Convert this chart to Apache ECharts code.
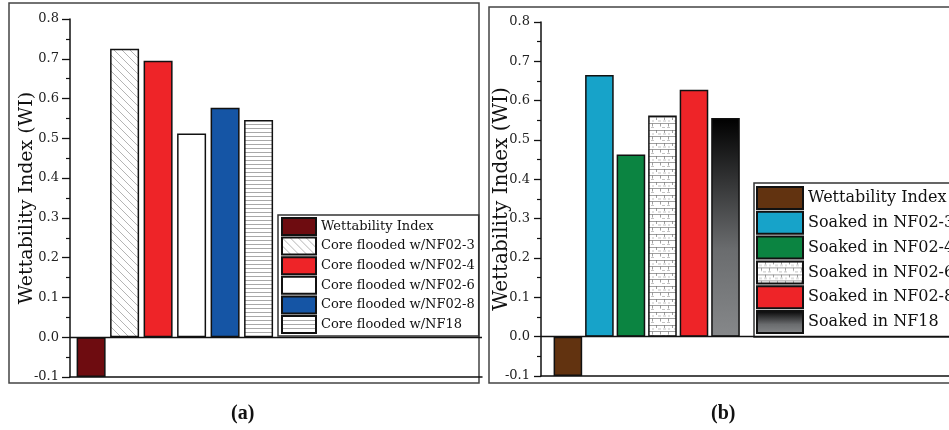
<!DOCTYPE html>
<html>
<head>
<meta charset="utf-8">
<script src="https://cdn.jsdelivr.net/npm/echarts@6/dist/echarts.min.js"></script>
<style>
html,body{margin:0;padding:0;background:#fff;}
#chart{width:949px;height:430px;}
</style>
</head>
<body>
<div id="chart"></div>
<script>
// ---- data ----
var namesA = ['Wettability Index','Core flooded w/NF02-3','Core flooded w/NF02-4','Core flooded w/NF02-6','Core flooded w/NF02-8','Core flooded w/NF18'];
var valuesA = [-0.1, 0.725, 0.695, 0.512, 0.577, 0.546];
var namesB = ['Wettability Index','Soaked in NF02-3','Soaked in NF02-4','Soaked in NF02-6','Soaked in NF02-8','Soaked in NF18'];
var valuesB = [-0.1, 0.665, 0.463, 0.562, 0.628, 0.556];
var positions = [1, 2, 3, 4, 5, 6];
var yTicks = {min: -0.1, max: 0.8, interval: 0.1};
var axisTitle = 'Wettability Index (WI)';
var captions = ['(a)', '(b)'];

// ---- patterns ----
function makeCanvas(w, h, draw) {
  var c = document.createElement('canvas');
  c.width = w; c.height = h;
  var ctx = c.getContext('2d');
  ctx.fillStyle = '#fff'; ctx.fillRect(0, 0, w, h);
  draw(ctx, w, h);
  return c;
}
var diagPat = makeCanvas(8, 8, function (ctx, w, h) {
  ctx.strokeStyle = '#b4b4b4'; ctx.lineWidth = 1;
  ctx.beginPath();
  ctx.moveTo(-1, -1); ctx.lineTo(w + 1, h + 1);
  ctx.moveTo(-1 - w, -1); ctx.lineTo(1, h + 1);
  ctx.moveTo(w - 1, -1); ctx.lineTo(2 * w + 1, h + 1);
  ctx.stroke();
});
var hLinePat = makeCanvas(8, 4, function (ctx, w, h) {
  ctx.strokeStyle = '#a8a8a8'; ctx.lineWidth = 1;
  ctx.beginPath(); ctx.moveTo(0, 0.5); ctx.lineTo(w, 0.5); ctx.stroke();
});
var brickPat = makeCanvas(16, 13, function (ctx, w, h) {
  ctx.strokeStyle = '#777'; ctx.lineWidth = 0.7;
  ctx.beginPath();
  ctx.moveTo(0, 0.5); ctx.lineTo(w, 0.5);
  ctx.moveTo(0, 6.5); ctx.lineTo(w, 6.5);
  ctx.moveTo(0.5, 0); ctx.lineTo(0.5, 3);
  ctx.moveTo(8.5, 0); ctx.lineTo(8.5, 3);
  ctx.moveTo(4.5, 6.5); ctx.lineTo(4.5, 9.5);
  ctx.moveTo(12.5, 6.5); ctx.lineTo(12.5, 9.5);
  ctx.stroke();
  ctx.strokeStyle = '#aaa'; ctx.lineWidth = 0.7;
  ctx.setLineDash([3, 2]);
  ctx.beginPath();
  ctx.moveTo(2, 4); ctx.lineTo(14, 4);
  ctx.moveTo(6, 10.5); ctx.lineTo(16, 10.5);
  ctx.stroke();
});

var colorsA = ['#6e0c10', {image: diagPat, repeat: 'repeat'}, '#ee2428', '#ffffff', '#1555a5', {image: hLinePat, repeat: 'repeat'}];
var gradB = new echarts.graphic.LinearGradient(0, 0, 0, 1, [
  {offset: 0, color: '#000000'}, {offset: 0.6, color: '#6a6c6e'}, {offset: 1, color: '#86888a'}
]);
var colorsB = ['#623310', '#17a3c9', '#0b8441', {image: brickPat, repeat: 'repeat'}, '#ee2428', gradB];

var FONT = 'DejaVu Serif';

function yAxisCfg(gridIndex, nameGap, tickLen, nameSize) {
  return {
    type: 'value', gridIndex: gridIndex,
    min: yTicks.min, max: yTicks.max, interval: yTicks.interval,
    name: axisTitle, nameLocation: 'middle', nameRotate: 90, nameGap: nameGap,
    nameMoveOverlap: false,
    nameTextStyle: {fontFamily: FONT, fontSize: nameSize, color: '#111'},
    axisLine: {show: true, onZero: false, lineStyle: {color: '#111', width: 1.5}},
    axisTick: {show: true, inside: false, length: tickLen, lineStyle: {color: '#111', width: 1.3}},
    minorTick: {show: true, splitNumber: 2, length: 4, lineStyle: {color: '#111', width: 1.2}},
    splitLine: {show: false},
    axisLabel: {
      fontFamily: FONT, fontSize: 13, color: '#222', margin: 11,
      formatter: function (v) { return Math.abs(v) < 1e-9 ? '0.0' : v.toFixed(1); }
    }
  };
}
function xAxisCfg(gridIndex, min, max) {
  return {
    type: 'value', gridIndex: gridIndex, min: min, max: max,
    axisLine: {show: true, onZero: false, lineStyle: {color: '#111', width: 1.5}},
    axisTick: {show: false}, axisLabel: {show: false}, splitLine: {show: false}
  };
}

function buildSeries(names, values, colors, idx, suffix) {
  return names.map(function (n, i) {
    var s = {
      type: 'bar', name: n + (i === 0 ? suffix : ''),
      xAxisIndex: idx, yAxisIndex: idx,
      barWidth: idx === 0 ? 29 : 28.6, barGap: '-100%',
      itemStyle: {color: colors[i], borderColor: '#111', borderWidth: 1.5},
      emphasis: {disabled: true},
      data: [[positions[i], values[i]]]
    };
    if (i === 0) {
      s.markLine = {
        silent: true, symbol: 'none', label: {show: false}, animation: false,
        lineStyle: {color: '#111', type: 'solid', width: 1.3},
        data: [{yAxis: 0}]
      };
    }
    return s;
  });
}

var chart = echarts.init(document.getElementById('chart'), null, {renderer: 'canvas'});
var option = {
  animation: false,
  backgroundColor: '#fff',
  grid: [
    {left: 70, top: 19, width: 412, height: 358},
    {left: 541, top: 22, width: 420, height: 354}
  ],
  xAxis: [xAxisCfg(0, 0.37, 12.67), xAxisCfg(1, 0.147, 13.09)],
  yAxis: [yAxisCfg(0, 33, 8, 19), yAxisCfg(1, 29, 7, 20)],
  legend: [
    {
      data: namesA, orient: 'vertical', left: 278, top: 215,
      icon: 'rect',
      itemWidth: 34, itemHeight: 17, itemGap: 0.6,
      padding: [2, 4, 2, 3],
      backgroundColor: '#fff', borderColor: '#333', borderWidth: 1.5,
      textStyle: {fontFamily: FONT, fontSize: 13, color: '#111'},
      selectedMode: false
    },
    {
      data: namesB.map(function (n, i) { return i === 0 ? n + ' (b)' : n; }),
      orient: 'vertical', left: 754, top: 183,
      icon: 'rect',
      itemWidth: 46, itemHeight: 22, itemGap: 0.8,
      padding: [3, 20, 3, 2],
      backgroundColor: '#fff', borderColor: '#333', borderWidth: 1.5,
      textStyle: {fontFamily: FONT, fontSize: 16, color: '#111'},
      formatter: function (n) { return n.replace(' (b)', ''); },
      selectedMode: false
    }
  ],
  graphic: [
    {type: 'rect', shape: {x: 9, y: 3, width: 470, height: 380}, style: {fill: 'none', stroke: '#444', lineWidth: 1.5}, silent: true},
    {type: 'rect', shape: {x: 489, y: 7, width: 480, height: 376}, style: {fill: 'none', stroke: '#444', lineWidth: 1.5}, silent: true},
    {type: 'text', left: 231, top: 404, style: {text: captions[0], font: 'bold 20px "Liberation Serif"', fill: '#111'}},
    {type: 'text', left: 711, top: 404, style: {text: captions[1], font: 'bold 20px "Liberation Serif"', fill: '#111'}}
  ],
  series: buildSeries(namesA, valuesA, colorsA, 0, '').concat(buildSeries(namesB, valuesB, colorsB, 1, ' (b)'))
};
chart.setOption(option);
</script>
</body>
</html>
